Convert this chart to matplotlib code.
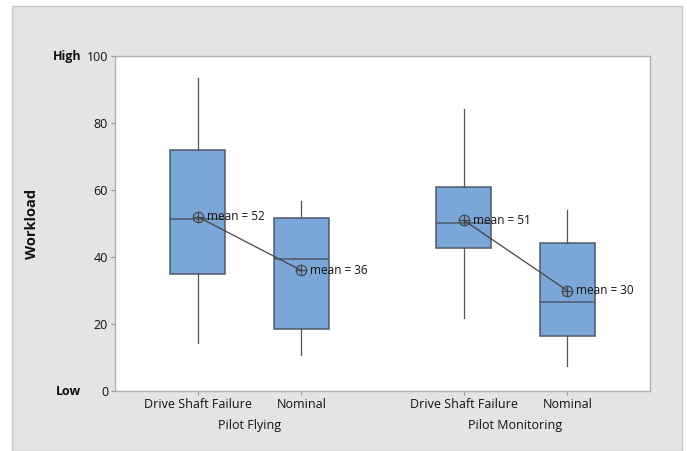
import matplotlib
matplotlib.use("Agg")
import matplotlib.pyplot as plt
from matplotlib.patches import Rectangle

groups = ["Pilot Flying", "Pilot Monitoring"]
conditions = ["Drive Shaft Failure", "Nominal"]
positions = [1.0, 2.0, 3.57, 4.57]

whisker_low = [14.3, 10.7, 21.8, 7.5]
q1 = [35.0, 18.5, 42.7, 16.4]
medians = [51.3, 39.4, 50.1, 26.6]
q3 = [72.0, 51.6, 60.9, 44.2]
whisker_high = [93.4, 56.7, 84.2, 54.0]
means = [52, 36, 51, 30]

plt.rcParams["font.family"] = ["Open Sans", "DejaVu Sans"]

fig = plt.figure(figsize=(6.87, 4.51), dpi=100, facecolor="white")
fig.patches.append(Rectangle((0.0175, 0.0), 0.975, 0.9867, transform=fig.transFigure,
                             facecolor="#e4e4e4", edgecolor="#c8c8c8", lw=1, zorder=-10))

ax = fig.add_axes([0.1674, 0.1330, 0.7787, 0.7428])
ax.set_facecolor("white")

stats = []
for i in range(len(positions)):
    stats.append({"whislo": whisker_low[i], "q1": q1[i], "med": medians[i],
                  "q3": q3[i], "whishi": whisker_high[i], "fliers": []})

ax.bxp(stats, positions=positions, widths=0.53, showcaps=False, patch_artist=True,
       boxprops=dict(facecolor="#7ba7d8", edgecolor="#4d5a6a", lw=1.1),
       medianprops=dict(color="#4d5a6a", lw=1.1),
       whiskerprops=dict(color="#555555", lw=0.9))

for g in range(2):
    xs = positions[2 * g:2 * g + 2]
    ys = means[2 * g:2 * g + 2]
    ax.plot(xs, ys, color="#444444", lw=0.9, zorder=4)
    ax.plot(xs, ys, ls="none", marker="o", ms=7.5, mfc="none", mec="#444444", mew=0.9, zorder=5)
    ax.plot(xs, ys, ls="none", marker="+", ms=7.5, mec="#444444", mew=0.9, zorder=5)
    for x, y in zip(xs, ys):
        ax.text(x + 0.085, y, f"mean = {y}", fontsize=8.5, va="center", ha="left",
                color="#111111", zorder=6)

ax.set_xlim(0.2, 5.37)
ax.set_ylim(0, 100)
ax.set_yticks([0, 20, 40, 60, 80, 100])
ax.set_xticks(positions)
ax.set_xticklabels(conditions * 2)
ax.tick_params(labelsize=9, colors="#111111", length=3, color="#999999", pad=2)
for s in ax.spines.values():
    s.set_color("#b0b0b0")
    s.set_linewidth(1)

for gi, name in enumerate(groups):
    cx = (positions[2 * gi] + positions[2 * gi + 1]) / 2
    ax.text(cx, -0.085, name, transform=ax.get_xaxis_transform(), ha="center", va="top",
            fontsize=9, color="#111111")

trans = ax.get_yaxis_transform()
ax.text(-0.063, 100, "High", transform=trans, ha="right", va="center", fontsize=9,
        fontweight="bold", color="#111111")
ax.text(-0.063, 0, "Low", transform=trans, ha="right", va="center", fontsize=9,
        fontweight="bold", color="#111111")

ax.set_ylabel("Workload", fontsize=10.5, fontweight="bold", color="#111111", labelpad=34)

fig.savefig("out.png", dpi=100, facecolor="white")
